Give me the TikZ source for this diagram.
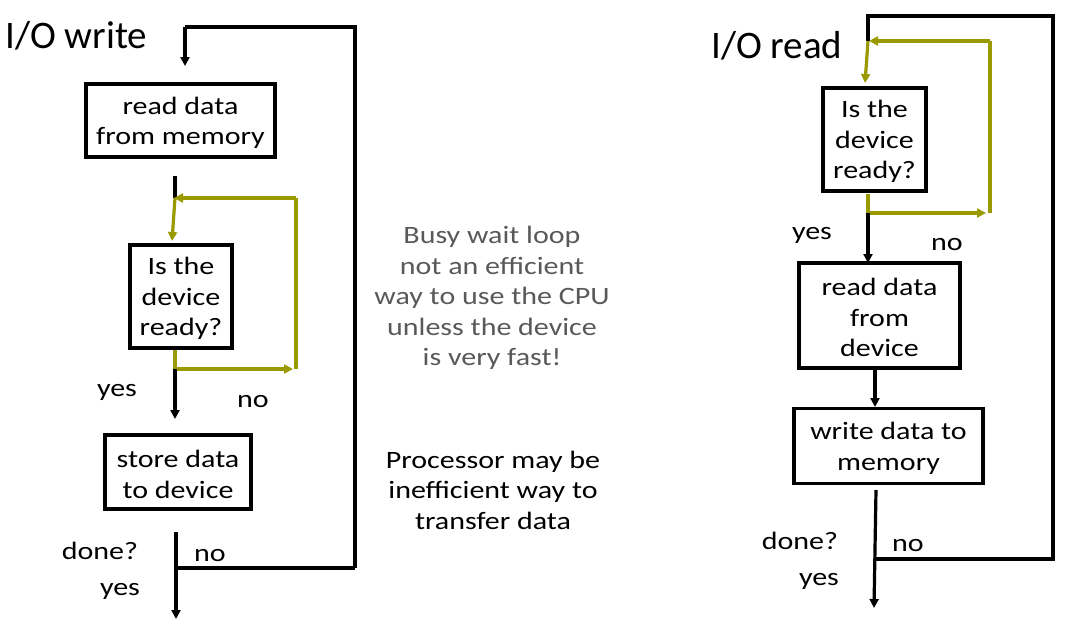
\documentclass[tikz,border=0pt]{standalone}
\usepackage{fontspec}
\setmainfont{Carlito}[FakeStretch=1.2]
\newfontfamily\titlefont{Carlito}
\usetikzlibrary{arrows.meta}
\definecolor{olivec}{HTML}{999900}
\definecolor{grayt}{HTML}{595959}
\newcommand\tp{\rule{0pt}{22pt}}
\tikzset{
  txt/.style={font=\fontsize{25}{30.5}\selectfont, align=center, inner sep=0pt},
  box/.style={draw=black, line width=3.2pt, txt, minimum width=#1},
  blk/.style={draw=black, line width=3.2pt},
  olv/.style={draw=olivec, line width=3.2pt},
  tip/.style={-{Triangle[length=9pt,width=9pt]}},
  ttl/.style={font=\titlefont\fontsize{39}{40}\selectfont, anchor=base west, inner sep=0pt}
}
\begin{document}
\begin{tikzpicture}[x=1pt,y=-1pt]
\useasboundingbox (0,0) rectangle (1077,624);
% ---------- titles
\node[ttl] (tw) at (5,48) {I/O write};
\node[ttl] (tr) at (711,58) {I/O read};
% ---------- left boxes
\node[box=189pt, minimum height=73pt] (w1) at (180.5,120.5) {\tp read data\\from memory};
\node[box=102pt, minimum height=103pt] (w2) at (181,296.5) {\tp Is the\\device\\ready?};
\node[box=146pt, minimum height=74pt] (w3) at (178,472) {\tp store data\\to device};
% ---------- right boxes
\node[box=103pt, minimum height=103pt] (r1) at (874.5,139.5) {\tp Is the\\device\\ready?};
\node[box=161pt, minimum height=105pt] (r2) at (879.5,315.5) {\tp read data\\from\\device};
\node[box=189pt, minimum height=75pt] (r3) at (888.5,446) {\tp write data to\\memory};
% ---------- left coordinates
\coordinate (wa) at (185,27);
\coordinate (wb) at (355,27);
\coordinate (wc) at (355,568);
\coordinate (wd) at (176,568);
\coordinate (wtip1) at (185,66);
\coordinate (we) at (175,176);
\coordinate (wf) at (175,198);
\coordinate (wg) at (296,198);
\coordinate (wh) at (296,369);
\coordinate (wi) at (175,350);
\coordinate (wj) at (175,369);
\coordinate (wk) at (175,419);
\coordinate (wl) at (176,532);
\coordinate (wm) at (176,619);
\coordinate (wn) at (172,241);
% ---------- left connectors
\draw[blk] (wc) -- (wb) -- (wa);
\draw[blk,tip] (wa) -- (wtip1);
\draw[blk] (we) -- (wf);
\draw[olv,tip] (wg) -- ([xshift=-1pt]wf);
\draw[olv] (wh) -- (wg);
\draw[olv,tip] (wf) -- (wn);
\draw[olv] (wi) -- (wj);
\draw[olv,tip] (wj) -- ([xshift=-3pt]wh);
\draw[blk,tip] (wj) -- (wk);
\draw[blk,tip] (wl) -- (wm);
\draw[blk] (wd) -- (wc);
% ---------- left labels
\node[txt] (lyes1) at (117,392) {yes};
\node[txt] (lno1) at (253,402) {no};
\node[txt] (ldone) at (100,551) {done?};
\node[txt] (lyes2) at (120,591) {yes};
\node[txt] (lno2) at (210,556) {no};
% ---------- middle text
\node[txt, text=grayt] (busy) at (492,298) {Busy wait loop\\not an efficient\\way to use the CPU\\unless the device\\is very fast!};
\node[txt] (proc) at (493,490) {Processor may be\\inefficient way to\\transfer data};
% ---------- right coordinates
\coordinate (ra) at (866,16);
\coordinate (rb) at (1053,16);
\coordinate (rc) at (1053,559);
\coordinate (rd) at (875,559);
\coordinate (re) at (868,41);
\coordinate (rf) at (990,41);
\coordinate (rg) at (990,213);
\coordinate (rh) at (865,83);
\coordinate (ri) at (868,194);
\coordinate (rj) at (868,213);
\coordinate (rk) at (868,263);
\coordinate (rl) at (875,369);
\coordinate (rm) at (875,407);
\coordinate (rn) at (876,490);
\coordinate (ro) at (874,608);
% ---------- right connectors
\draw[blk] (ra) -- (rb) -- (rc) -- (rd);
\draw[blk] ([xshift=2pt]ra) -- (re);
\draw[olv,tip] (rf) -- ([xshift=1pt]re);
\draw[olv] (rg) -- (rf);
\draw[olv,tip] (re) -- (rh);
\draw[olv] (ri) -- (rj);
\draw[olv,tip] (rj) -- ([xshift=-4pt]rg);
\draw[blk,tip] (rj) -- (rk);
\draw[blk,tip] (rl) -- (rm);
\draw[blk,tip] (rn) -- (ro);
% ---------- right labels
\node[txt] (ryes1) at (812,235) {yes};
\node[txt] (rno1) at (947,245) {no};
\node[txt] (rdone) at (800,541) {done?};
\node[txt] (ryes2) at (819,581) {yes};
\node[txt] (rno2) at (908,546) {no};
\end{tikzpicture}
\end{document}
